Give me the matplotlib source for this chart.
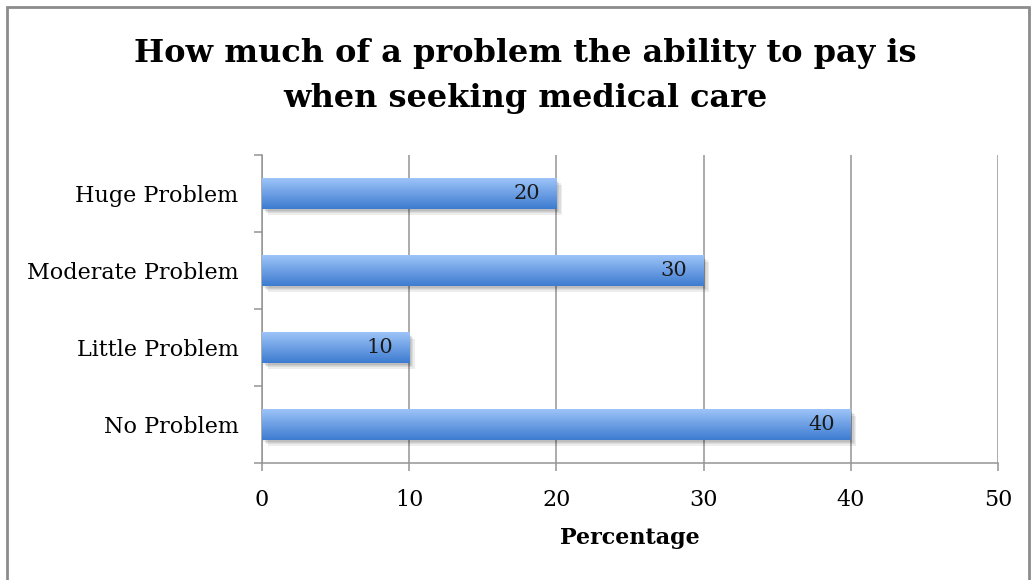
import numpy as np
import matplotlib
matplotlib.use("Agg")
import matplotlib.pyplot as plt
from matplotlib.patches import Rectangle
import matplotlib.patheffects as pe

categories = ["No Problem", "Little Problem", "Moderate Problem", "Huge Problem"]
percentages = [40, 10, 30, 20]
x_ticks = [0, 10, 20, 30, 40, 50]

title = "How much of a problem the ability to pay is\nwhen seeking medical care"
x_label = "Percentage"

plt.rcParams["font.family"] = ["DejaVu Serif"]
line_grey = "#959595"

fig = plt.figure(figsize=(10.33, 5.8), dpi=100)
fig.patches.append(Rectangle((7 / 1033, -0.01), 1022 / 1033, 1 - 7 / 580 + 0.01,
                             transform=fig.transFigure, fill=False,
                             edgecolor="#8c8c8c", linewidth=2))

ax = fig.add_axes([262 / 1033, 1 - 463 / 580, 736 / 1033, 308 / 580])
ax.set_xlim(0, 50)
ax.set_ylim(-0.5, len(categories) - 0.5)

# vertical gradient, light on top, darker blue at the bottom
grad = np.linspace(0, 1, 64).reshape(-1, 1)
cmap = matplotlib.colors.LinearSegmentedColormap.from_list(
    "bar", ["#3d7cd0", "#6d9fe4", "#9dc4f8"])

ypos = np.arange(len(categories))
bar_h = 0.39
bars = ax.barh(ypos, percentages, height=bar_h, color="#6d9fe4",
               edgecolor="none", zorder=3)
for b, v in zip(bars, percentages):
    # soft drop shadow built from a few stacked faint offsets
    b.set_path_effects([pe.SimplePatchShadow(offset=(1 + k, -1.5 - k),
                                             shadow_rgbFace="#000000", alpha=0.07)
                        for k in range(4)] + [pe.Normal()])
    y0 = b.get_y()
    im = ax.imshow(grad, cmap=cmap, aspect="auto", origin="lower",
                   extent=(0, v, y0, y0 + bar_h), zorder=4)
    im.set_clip_path(b)
    ax.text(v - 1.1, b.get_y() + bar_h / 2, str(v), ha="right", va="center",
            fontsize=15, color="#1a1a1a", zorder=5)

ax.set_xticks(x_ticks)
ax.set_xticklabels([str(t) for t in x_ticks], fontsize=16)
ax.set_yticks(ypos)
ax.set_yticklabels(categories, fontsize=16)
ax.set_yticks(np.arange(-0.5, len(categories)), minor=True)
ax.tick_params(axis="y", which="major", length=0, pad=17)
ax.tick_params(axis="y", which="minor", length=6, color=line_grey, width=1.1)
ax.tick_params(axis="x", length=6, color=line_grey, width=1.1, pad=13)
ax.grid(axis="x", color=line_grey, linewidth=1.1, zorder=1)
ax.set_axisbelow(True)

for side in ["top", "right"]:
    ax.spines[side].set_visible(False)
for side in ["left", "bottom"]:
    ax.spines[side].set_color(line_grey)
    ax.spines[side].set_linewidth(1.1)
ax.spines["left"].set_zorder(2)

ax.set_xlabel(x_label, fontsize=16, fontweight="bold", labelpad=11)
fig.text(525 / 1033, 1 - 76 / 580, title, ha="center", va="center",
         fontsize=23, fontweight="bold", linespacing=1.6)

fig.savefig("out.png", dpi=100)
